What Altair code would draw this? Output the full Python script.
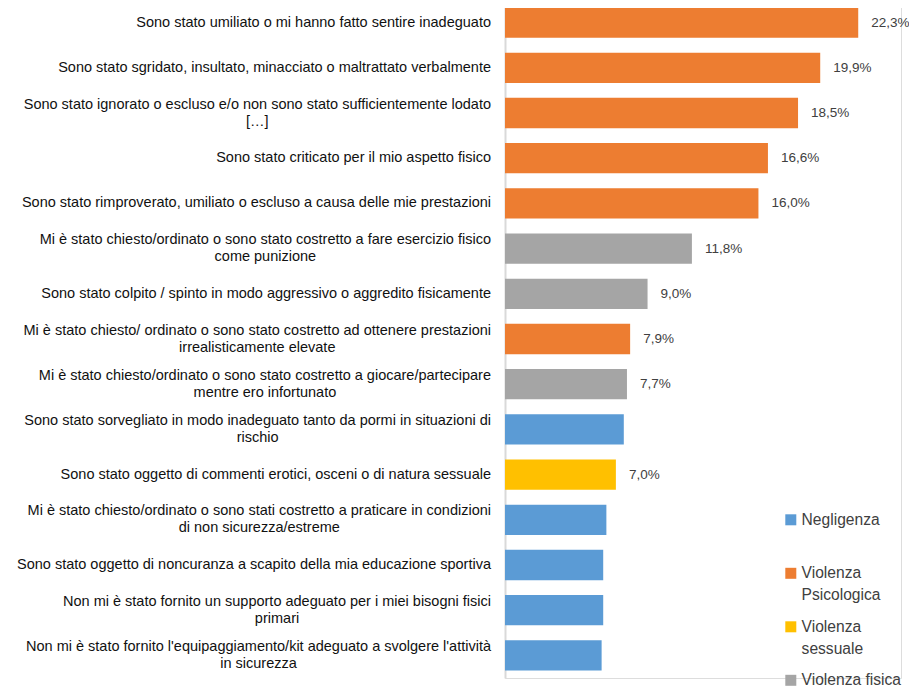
import altair as alt
import pandas as pd

# ---- data ----
label_line1 = [
    "Sono stato umiliato o mi hanno fatto sentire inadeguato",
    "Sono stato sgridato, insultato, minacciato o maltrattato verbalmente",
    "Sono stato ignorato o escluso e/o non sono stato sufficientemente lodato",
    "Sono stato criticato per il mio aspetto fisico",
    "Sono stato rimproverato, umiliato o escluso a causa delle mie prestazioni",
    "Mi è stato chiesto/ordinato o sono stato costretto a fare esercizio fisico",
    "Sono stato colpito / spinto in modo aggressivo o aggredito fisicamente",
    "Mi è stato chiesto/ ordinato o sono stato costretto ad ottenere prestazioni",
    "Mi è stato chiesto/ordinato o sono stato costretto a giocare/partecipare",
    "Sono stato sorvegliato in modo inadeguato tanto da pormi in situazioni di",
    "Sono stato oggetto di commenti erotici, osceni o di natura sessuale",
    "Mi è stato chiesto/ordinato o sono stati costretto a praticare in condizioni",
    "Sono stato oggetto di noncuranza a scapito della mia educazione sportiva",
    "Non mi è stato fornito un supporto adeguato per i miei bisogni fisici",
    "Non mi è stato fornito l'equipaggiamento/kit adeguato a svolgere l'attività",
]
label_line2 = [
    "", "", "[…]", "", "", "come punizione", "", "irrealisticamente elevate",
    "mentre ero infortunato", "rischio", "", "di non sicurezza/estreme", "",
    "primari", "in sicurezza",
]
values = [22.3, 19.9, 18.5, 16.6, 16.0, 11.8, 9.0, 7.9, 7.7, 7.5, 7.0, 6.4, 6.2, 6.2, 6.1]
categories = [
    "Violenza Psicologica", "Violenza Psicologica", "Violenza Psicologica",
    "Violenza Psicologica", "Violenza Psicologica", "Violenza fisica",
    "Violenza fisica", "Violenza Psicologica", "Violenza fisica", "Negligenza",
    "Violenza sessuale", "Negligenza", "Negligenza", "Negligenza", "Negligenza",
]
show_value = [True] * 9 + [False, True, False, False, False, False]
legend_order = ["Negligenza", "Violenza Psicologica", "Violenza sessuale", "Violenza fisica"]
legend_colors = ["#5B9BD5", "#ED7D31", "#FFC000", "#A5A5A5"]

FONT = "Liberation Sans"
LABEL_SIZE = 14.5
LABEL_GAP = 14

# Arial / Liberation Sans advance widths (per 1000 em) to centre wrapped second lines
_W = {" ": 278, "'": 191, "/": 278, ",": 278, ".": 278, "[": 278, "]": 278, "…": 1000,
      "c": 500, "f": 278, "i": 222, "j": 222, "k": 500, "l": 222, "m": 833, "r": 333,
      "s": 500, "t": 278, "v": 500, "w": 722, "x": 500, "y": 500, "z": 500,
      "M": 833, "N": 722, "S": 667}


def text_width(s, size):
    return sum(_W.get(ch, 556) for ch in s) * size / 1000.0


df = pd.DataFrame({
    "row": list(range(len(values))),
    "line1": label_line1,
    "line2": label_line2,
    "value": values,
    "cat": categories,
    "show": show_value,
})
df["two"] = df["line2"] != ""
df["x2px"] = [-LABEL_GAP - text_width(s, LABEL_SIZE) / 2 for s in label_line1]

y_enc = alt.Y("row:O", title=None,
              scale=alt.Scale(paddingInner=0.33, paddingOuter=0.165),
              axis=alt.Axis(labels=False, ticks=False, domain=True,
                            domainColor="#D9D9D9", domainWidth=2, grid=False))

base = alt.Chart(df)

bars = base.mark_bar().encode(
    x=alt.X("value:Q", scale=alt.Scale(domain=[0, 25], nice=False), axis=None),
    y=y_enc,
    color=alt.Color("cat:N",
                    scale=alt.Scale(domain=legend_order, range=legend_colors),
                    legend=alt.Legend(
                        title=None, orient="none", legendX=278, legendY=512,
                        symbolType="square", symbolSize=121, symbolStrokeWidth=0,
                        labelFont=FONT, labelFontSize=15.6, labelColor="#404040",
                        labelLimit=300, rowPadding=14.5, padding=0, offset=0,
                        labelOffset=3,
                        labelExpr="datum.label === 'Violenza fisica' || datum.label === 'Negligenza' ? [datum.label, ''] : split(datum.label, ' ')",
                    )),
)

value_text = base.transform_filter("datum.show").transform_calculate(
    vlabel="replace(format(datum.value, '.1f'), '.', ',') + '%'"
).mark_text(align="left", baseline="middle", dx=13, font=FONT, fontSize=13.5,
            color="#404040").encode(
    x=alt.X("value:Q"), y=y_enc, text="vlabel:N")

lab_single = base.transform_filter("!datum.two").mark_text(
    align="right", baseline="middle", font=FONT, fontSize=LABEL_SIZE, color="#111111"
).encode(x=alt.value(-LABEL_GAP), y=y_enc, text="line1:N")

lab_first = base.transform_filter("datum.two").mark_text(
    align="right", baseline="middle", dy=-8.5, font=FONT, fontSize=LABEL_SIZE, color="#111111"
).encode(x=alt.value(-LABEL_GAP), y=y_enc, text="line1:N")

lab_second = base.transform_filter("datum.two").mark_text(
    align="center", baseline="middle", dy=8.5, font=FONT, fontSize=LABEL_SIZE, color="#111111"
).encode(x=alt.X("x2px:Q", scale=None), y=y_enc, text="line2:N")

chart = alt.layer(bars, value_text, lab_single, lab_first, lab_second).properties(
    width=396, height=678,
    autosize=alt.AutoSizeParams(type="none"),
    padding={"left": 497, "top": -8, "right": 8, "bottom": 9},
).configure_view(stroke=None).configure(
    background="white",
    style={"guide-label": {"lineHeight": 22}},
)

chart.save("out.html", embed_options={"renderer": "svg", "actions": False})
